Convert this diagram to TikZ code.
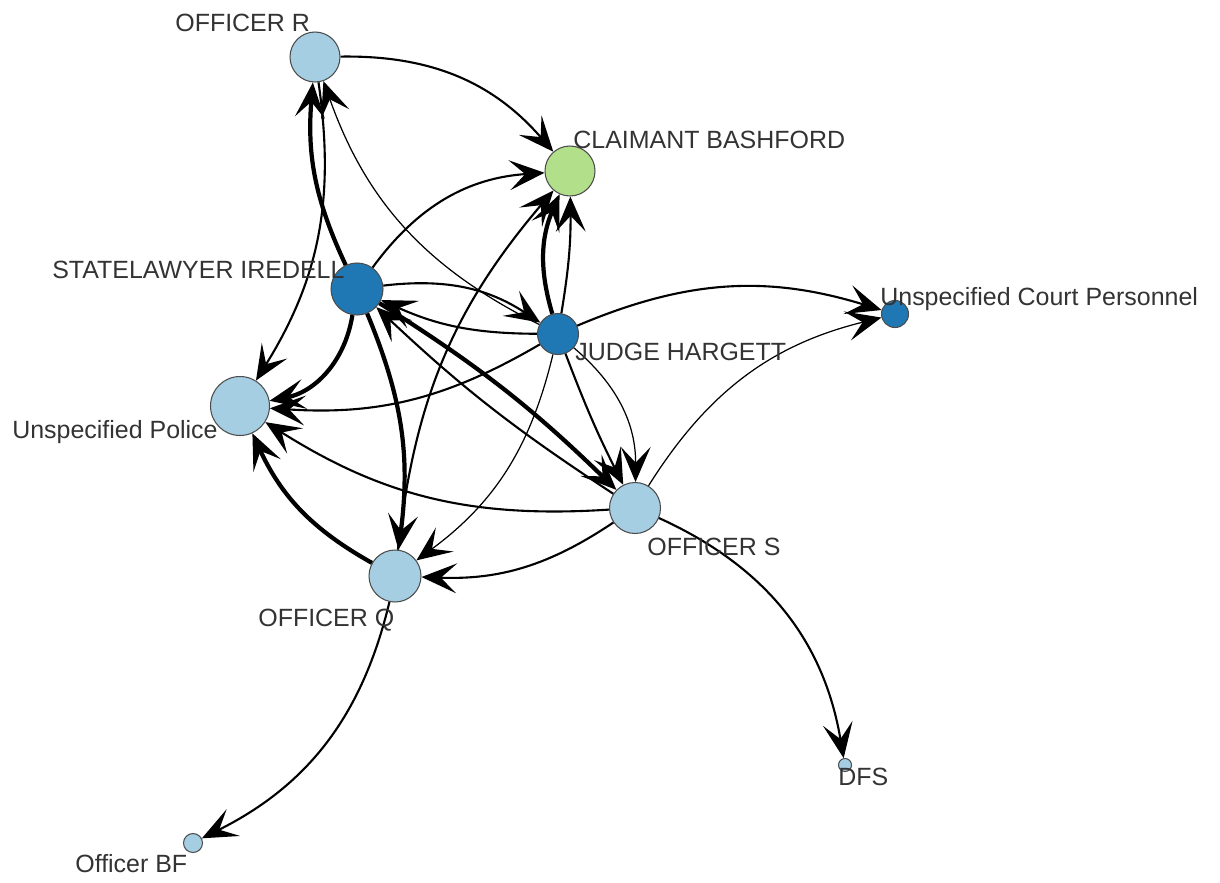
\documentclass[tikz,border=0pt]{standalone}
\usepackage{fontspec}
\setmainfont{Liberation Sans}
\usetikzlibrary{arrows.meta}
\definecolor{ltblue}{HTML}{A6CEE3}
\definecolor{dkblue}{HTML}{1F78B4}
\definecolor{ltgreen}{HTML}{B2DF8A}
\definecolor{lblgray}{HTML}{333333}
\begin{document}
\begin{tikzpicture}[
  vtx/.style={circle, draw=black!70, line width=0.6pt, inner sep=0pt},
  lbl/.style={anchor=base west, inner sep=0pt, text=lblgray, font=\fontsize{14.2}{17}\selectfont},
  arr/.style={-{Stealth[length=20pt,width=17pt,inset=9pt]}},
  thn/.style={arr, line width=0.7pt},
  med/.style={arr, line width=1.2pt},
  thk/.style={arr, line width=2.4pt}]
\useasboundingbox (0,0) rectangle (24.4,-17.64);

\node [vtx, minimum size=1.00cm, fill=ltblue] (offR) at (6.30,-1.14) {};
\node [vtx, minimum size=1.00cm, fill=ltgreen] (claim) at (11.40,-3.42) {};
\node [vtx, minimum size=1.04cm, fill=dkblue] (iredell) at (7.14,-5.78) {};
\node [vtx, minimum size=0.82cm, fill=dkblue] (judge) at (11.16,-6.68) {};
\node [vtx, minimum size=0.54cm, fill=dkblue] (court) at (17.90,-6.28) {};
\node [vtx, minimum size=1.18cm, fill=ltblue] (police) at (4.80,-8.12) {};
\node [vtx, minimum size=1.02cm, fill=ltblue] (offS) at (12.70,-10.16) {};
\node [vtx, minimum size=1.04cm, fill=ltblue] (offQ) at (7.90,-11.52) {};
\node [vtx, minimum size=0.26cm, fill=ltblue] (dfs) at (16.90,-15.30) {};
\node [vtx, minimum size=0.38cm, fill=ltblue] (offBF) at (3.86,-16.86) {};

\draw [med] (offR) edge [bend left=25] (claim);
\draw [thk] (iredell) edge [bend left=15] (offR);
\draw [thn] (judge) edge [bend left=22] (offR);
\draw [med] (offR) edge [bend left=20] (police);
\draw [thk] (iredell) edge [bend left=35] (police);
\draw [med] (judge) edge [bend left=17] (police);
\draw [med] (offS) edge [bend left=18] (police);
\draw [thk] (offQ) edge [bend left=18] (police);
\draw [med] (iredell) edge [bend left=25] (claim);
\draw [med] (offQ) edge [bend left=17] (claim);
\draw [thk] (judge) edge [bend left=20] (claim);
\draw [med] (judge) edge [bend right=5] (claim);
\draw [med] (iredell) edge [bend left=20] (judge);
\draw [med] (judge) edge [bend left=12] (iredell);
\draw [thk] (iredell) edge [bend left=6] (offS);
\draw [med] (offS) edge [bend left=5] (iredell);
\draw [thn] (judge) edge [bend left=25] (offS);
\draw [med] (judge) edge [bend right=3] (offS);
\draw [thk] (iredell) edge [bend left=15] (offQ);
\draw [thn] (judge) edge [bend left=20] (offQ);
\draw [med] (offS) edge [bend left=18] (offQ);
\draw [med] (judge) edge [bend left=20] (court);
\draw [thn] (offS) edge [bend left=22] (court);
\draw [med] (offS) edge [bend left=28] (dfs);
\draw [med] (offQ) edge [bend left=25] (offBF);

\node [lbl] (lR) at (3.50,-0.64) {OFFICER R};
\node [lbl] (lclaim) at (11.46,-2.96) {CLAIMANT BASHFORD};
\node [lbl] (liredell) at (1.04,-5.56) {STATELAWYER IREDELL};
\node [lbl] (ljudge) at (11.50,-7.20) {JUDGE HARGETT};
\node [lbl] (lcourt) at (17.60,-6.10) {Unspecified Court Personnel};
\node [lbl] (lpolice) at (0.24,-8.76) {Unspecified Police};
\node [lbl] (lS) at (12.94,-11.10) {OFFICER S};
\node [lbl] (lQ) at (5.16,-12.52) {OFFICER Q};
\node [lbl] (ldfs) at (16.76,-15.70) {DFS};
\node [lbl] (lBF) at (1.50,-17.44) {Officer BF};
\end{tikzpicture}
\end{document}
